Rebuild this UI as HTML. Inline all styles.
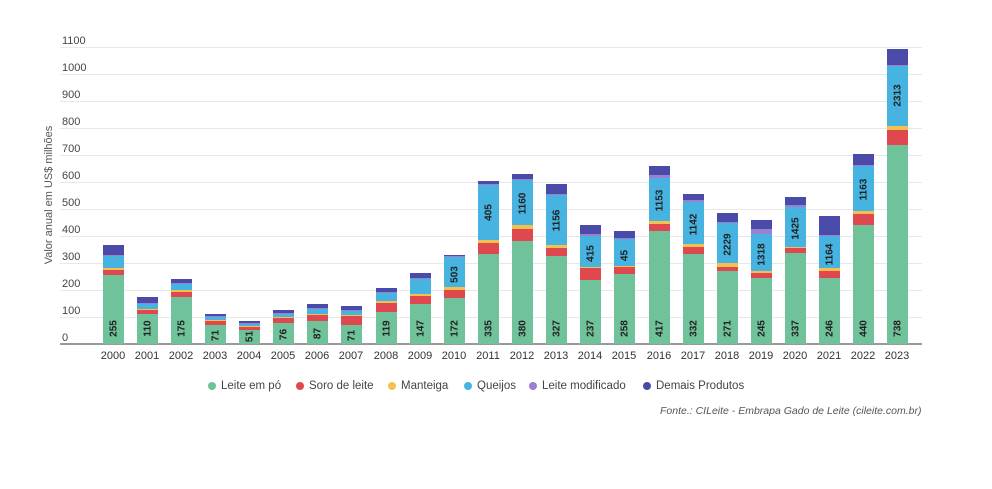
<!DOCTYPE html>
<html><head><meta charset="utf-8"><style>
body{margin:0;width:992px;height:489px;background:#fff;font-family:"Liberation Sans",sans-serif;position:relative;overflow:hidden}
.g{position:absolute;left:60px;width:862px;height:1px;background:#e8e8e8}
.yl{position:absolute;left:62px;font-size:11px;color:#444;line-height:12px}
.bar{position:absolute;bottom:145px;width:21px;display:flex;flex-direction:column-reverse}
.bar div{position:relative;width:100%}
.a{background:#6fc29a}.b{background:#e0484f}.c{background:#f2c14e}.d{background:#46b3e0}.e{background:#9b7fd0}.f{background:#4a4aa8}
.bar span{position:absolute;left:50%;font-size:10px;font-weight:bold;color:#222;transform:translateX(-50%) rotate(-90deg);white-space:nowrap}
.a span{bottom:10px}
.d span{top:40%}
.xl{position:absolute;top:350px;font-size:11px;color:#333;width:34px;text-align:center}
.lg{position:absolute;top:380px;font-size:11.5px;color:#444;white-space:nowrap}
.lg i{display:inline-block;width:8px;height:8px;border-radius:50%;margin-right:5px;vertical-align:-1px}
</style></head><body>
<div class="g" style="top:47px"></div><div class="g" style="top:74px"></div><div class="g" style="top:101px"></div><div class="g" style="top:128px"></div><div class="g" style="top:155px"></div><div class="g" style="top:182px"></div><div class="g" style="top:209px"></div><div class="g" style="top:236px"></div><div class="g" style="top:263px"></div><div class="g" style="top:290px"></div><div class="g" style="top:317px"></div>
<div style="position:absolute;left:60px;width:862px;top:343px;height:2px;background:#999"></div>
<div class="yl" style="top:35px">1100</div><div class="yl" style="top:62px">1000</div><div class="yl" style="top:89px">900</div><div class="yl" style="top:116px">800</div><div class="yl" style="top:143px">700</div><div class="yl" style="top:170px">600</div><div class="yl" style="top:197px">500</div><div class="yl" style="top:224px">400</div><div class="yl" style="top:251px">300</div><div class="yl" style="top:278px">200</div><div class="yl" style="top:305px">100</div><div class="yl" style="top:332px">0</div>
<div style="position:absolute;left:49px;top:195px;transform:translate(-50%,-50%) rotate(-90deg);font-size:11px;color:#555;white-space:nowrap">Valor anual em US$ milhões</div>

<div class="bar" style="left:103px"><div class="a" style="height:69px"><span>255</span></div><div class="b" style="height:5px"></div><div class="c" style="height:2px"></div><div class="d" style="height:12px"></div><div class="e" style="height:1px"></div><div class="f" style="height:10px"></div></div>
<div class="bar" style="left:137px"><div class="a" style="height:30px"><span>110</span></div><div class="b" style="height:4px"></div><div class="c" style="height:1px"></div><div class="d" style="height:5px"></div><div class="e" style="height:1px"></div><div class="f" style="height:6px"></div></div>
<div class="bar" style="left:171px"><div class="a" style="height:47px"><span>175</span></div><div class="b" style="height:5px"></div><div class="c" style="height:2px"></div><div class="d" style="height:6px"></div><div class="e" style="height:1px"></div><div class="f" style="height:4px"></div></div>
<div class="bar" style="left:205px"><div class="a" style="height:19px"><span style="bottom:3px">71</span></div><div class="b" style="height:4px"></div><div class="c" style="height:1px"></div><div class="d" style="height:3px"></div><div class="e" style="height:1px"></div><div class="f" style="height:2px"></div></div>
<div class="bar" style="left:239px"><div class="a" style="height:14px"><span style="bottom:2px">51</span></div><div class="b" style="height:3px"></div><div class="c" style="height:1px"></div><div class="d" style="height:2px"></div><div class="e" style="height:1px"></div><div class="f" style="height:2px"></div></div>
<div class="bar" style="left:273px"><div class="a" style="height:21px"><span style="bottom:4px">76</span></div><div class="b" style="height:5px"></div><div class="c" style="height:1px"></div><div class="d" style="height:3px"></div><div class="e" style="height:1px"></div><div class="f" style="height:3px"></div></div>
<div class="bar" style="left:307px"><div class="a" style="height:23px"><span style="bottom:5px">87</span></div><div class="b" style="height:6px"></div><div class="c" style="height:1px"></div><div class="d" style="height:5px"></div><div class="e" style="height:1px"></div><div class="f" style="height:4px"></div></div>
<div class="bar" style="left:341px"><div class="a" style="height:19px"><span style="bottom:3px">71</span></div><div class="b" style="height:9px"></div><div class="c" style="height:1px"></div><div class="d" style="height:4px"></div><div class="e" style="height:1px"></div><div class="f" style="height:4px"></div></div>
<div class="bar" style="left:376px"><div class="a" style="height:32px"><span>119</span></div><div class="b" style="height:9px"></div><div class="c" style="height:2px"></div><div class="d" style="height:8px"></div><div class="e" style="height:1px"></div><div class="f" style="height:4px"></div></div>
<div class="bar" style="left:410px"><div class="a" style="height:40px"><span>147</span></div><div class="b" style="height:8px"></div><div class="c" style="height:2px"></div><div class="d" style="height:15px"></div><div class="e" style="height:1px"></div><div class="f" style="height:5px"></div></div>
<div class="bar" style="left:444px"><div class="a" style="height:46px"><span>172</span></div><div class="b" style="height:8px"></div><div class="c" style="height:3px"></div><div class="d" style="height:30px"><span>503</span></div><div class="e" style="height:1px"></div><div class="f" style="height:1px"></div></div>
<div class="bar" style="left:478px"><div class="a" style="height:90px"><span>335</span></div><div class="b" style="height:11px"></div><div class="c" style="height:3px"></div><div class="d" style="height:55px"><span>405</span></div><div class="e" style="height:1px"></div><div class="f" style="height:3px"></div></div>
<div class="bar" style="left:512px"><div class="a" style="height:103px"><span>380</span></div><div class="b" style="height:12px"></div><div class="c" style="height:4px"></div><div class="d" style="height:45px"><span>1160</span></div><div class="e" style="height:1px"></div><div class="f" style="height:5px"></div></div>
<div class="bar" style="left:546px"><div class="a" style="height:88px"><span>327</span></div><div class="b" style="height:8px"></div><div class="c" style="height:3px"></div><div class="d" style="height:50px"><span>1156</span></div><div class="e" style="height:1px"></div><div class="f" style="height:10px"></div></div>
<div class="bar" style="left:580px"><div class="a" style="height:64px"><span>237</span></div><div class="b" style="height:12px"></div><div class="c" style="height:1px"></div><div class="d" style="height:31px"><span>415</span></div><div class="e" style="height:2px"></div><div class="f" style="height:9px"></div></div>
<div class="bar" style="left:614px"><div class="a" style="height:70px"><span>258</span></div><div class="b" style="height:7px"></div><div class="c" style="height:1px"></div><div class="d" style="height:27px"><span>45</span></div><div class="e" style="height:1px"></div><div class="f" style="height:7px"></div></div>
<div class="bar" style="left:649px"><div class="a" style="height:113px"><span>417</span></div><div class="b" style="height:7px"></div><div class="c" style="height:3px"></div><div class="d" style="height:43px"><span>1153</span></div><div class="e" style="height:3px"></div><div class="f" style="height:9px"></div></div>
<div class="bar" style="left:683px"><div class="a" style="height:90px"><span>332</span></div><div class="b" style="height:7px"></div><div class="c" style="height:3px"></div><div class="d" style="height:42px"><span>1142</span></div><div class="e" style="height:2px"></div><div class="f" style="height:6px"></div></div>
<div class="bar" style="left:717px"><div class="a" style="height:73px"><span>271</span></div><div class="b" style="height:4px"></div><div class="c" style="height:4px"></div><div class="d" style="height:40px"><span>2229</span></div><div class="e" style="height:1px"></div><div class="f" style="height:9px"></div></div>
<div class="bar" style="left:751px"><div class="a" style="height:66px"><span>245</span></div><div class="b" style="height:5px"></div><div class="c" style="height:2px"></div><div class="d" style="height:37px"><span>1318</span></div><div class="e" style="height:5px"></div><div class="f" style="height:9px"></div></div>
<div class="bar" style="left:785px"><div class="a" style="height:91px"><span>337</span></div><div class="b" style="height:5px"></div><div class="c" style="height:1px"></div><div class="d" style="height:40px"><span>1425</span></div><div class="e" style="height:2px"></div><div class="f" style="height:8px"></div></div>
<div class="bar" style="left:819px"><div class="a" style="height:66px"><span>246</span></div><div class="b" style="height:7px"></div><div class="c" style="height:3px"></div><div class="d" style="height:32px"><span>1164</span></div><div class="e" style="height:1px"></div><div class="f" style="height:19px"></div></div>
<div class="bar" style="left:853px"><div class="a" style="height:119px"><span>440</span></div><div class="b" style="height:11px"></div><div class="c" style="height:3px"></div><div class="d" style="height:45px"><span>1163</span></div><div class="e" style="height:1px"></div><div class="f" style="height:11px"></div></div>
<div class="bar" style="left:887px"><div class="a" style="height:199px"><span>738</span></div><div class="b" style="height:15px"></div><div class="c" style="height:4px"></div><div class="d" style="height:60px"><span>2313</span></div><div class="e" style="height:1px"></div><div class="f" style="height:16px"></div></div>

<div class="xl" style="left:96px">2000</div><div class="xl" style="left:130px">2001</div><div class="xl" style="left:164px">2002</div><div class="xl" style="left:198px">2003</div><div class="xl" style="left:232px">2004</div><div class="xl" style="left:266px">2005</div><div class="xl" style="left:300px">2006</div><div class="xl" style="left:334px">2007</div><div class="xl" style="left:369px">2008</div><div class="xl" style="left:403px">2009</div><div class="xl" style="left:437px">2010</div><div class="xl" style="left:471px">2011</div><div class="xl" style="left:505px">2012</div><div class="xl" style="left:539px">2013</div><div class="xl" style="left:573px">2014</div><div class="xl" style="left:607px">2015</div><div class="xl" style="left:642px">2016</div><div class="xl" style="left:676px">2017</div><div class="xl" style="left:710px">2018</div><div class="xl" style="left:744px">2019</div><div class="xl" style="left:778px">2020</div><div class="xl" style="left:812px">2021</div><div class="xl" style="left:846px">2022</div><div class="xl" style="left:880px">2023</div>

<div class="lg" style="left:208px"><i style="background:#6fc29a"></i>Leite em pó</div>
<div class="lg" style="left:296px"><i style="background:#e0484f"></i>Soro de leite</div>
<div class="lg" style="left:388px"><i style="background:#f2c14e"></i>Manteiga</div>
<div class="lg" style="left:464px"><i style="background:#46b3e0"></i>Queijos</div>
<div class="lg" style="left:529px"><i style="background:#9b7fd0"></i>Leite modificado</div>
<div class="lg" style="left:643px"><i style="background:#4a4aa8"></i>Demais Produtos</div>
<div style="position:absolute;left:660px;top:405px;font-size:10.5px;font-style:italic;color:#555;white-space:nowrap">Fonte.: CILeite - Embrapa Gado de Leite (cileite.com.br)</div>
</body></html>
